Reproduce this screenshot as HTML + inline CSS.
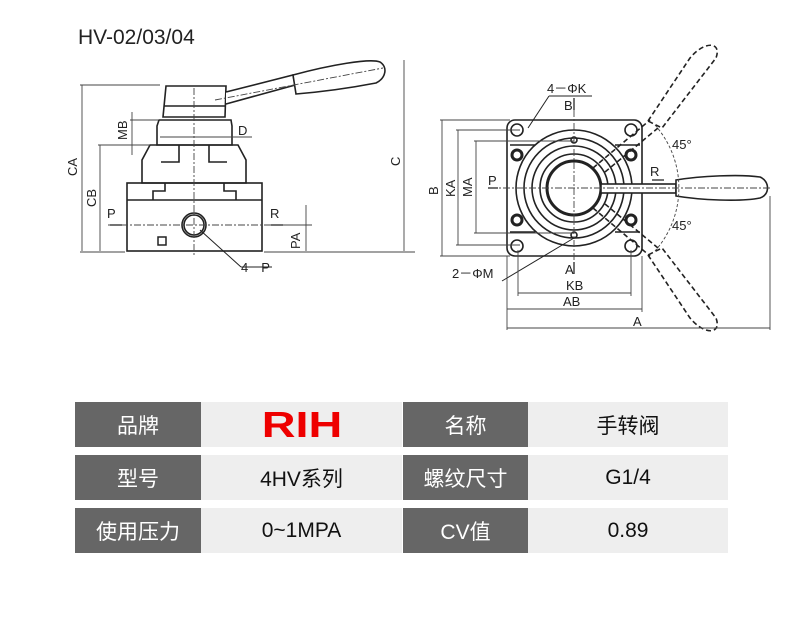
<!DOCTYPE html>
<html><head><meta charset="utf-8"><style>
body{margin:0;background:#fff;width:800px;height:623px;overflow:hidden;font-family:"Liberation Sans","Noto Sans CJK SC",sans-serif}
.t{position:absolute;left:0;top:0}
.c{position:absolute;display:flex;align-items:center;justify-content:center;font-size:21px}
.d{background:#666;color:#fff}
.l{background:#eee;color:#111}
</style></head><body>
<svg class="t" width="800" height="623" viewBox="0 0 800 623" font-family="Liberation Sans, sans-serif">
<text x="78" y="44" font-size="21" fill="#222">HV-02/03/04</text>
<g stroke="#222" stroke-width="1.6" fill="none">
<path d="M166 86 L226 86 L225 117 L163 117 Z" fill="#fff"/>
<line x1="164" y1="106" x2="225" y2="106"/>
<path d="M226 92 L293 75 L295 85 L226 104" fill="#fff"/>
<path d="M293 75 C330 65 370 58 380 62 C388 67 386 78 376 83 C350 88 320 92 296 94 Z" fill="#fff"/>
<path d="M159 120 L231 120 L232 126 L232 145 L157 145 L157 126 Z"/>
<path d="M150 145 L238 145 L246 160 L246 183 L142 183 L142 160 Z"/>
<path d="M179 145 L179 162 L161 162 M209 145 L209 162 L227 162"/>
<rect x="127" y="183" width="135" height="68"/>
<path d="M153 200 L153 191 L165 191 L165 183 M236 200 L236 191 L224 191 L224 183 M127 200 L262 200"/>
<circle cx="194" cy="225" r="12"/><circle cx="194" cy="225" r="10"/>
<rect x="158" y="237" width="8" height="8" stroke-width="1.5"/>
<line x1="200" y1="230" x2="241" y2="267" stroke-width="1"/><line x1="241" y1="267" x2="272" y2="267" stroke-width="1"/>
</g>
<g stroke="#444" stroke-width="0.9" fill="none">
<line x1="194" y1="88" x2="194" y2="256" stroke-dasharray="7 2 2 2"/>
<line x1="108" y1="225" x2="290" y2="225" stroke-dasharray="7 2 2 2"/>
<line x1="215" y1="100" x2="383" y2="68" stroke-dasharray="7 2 2 2"/>
<line x1="80" y1="85" x2="160" y2="85"/><line x1="82" y1="85" x2="82" y2="251"/>
<line x1="98" y1="145" x2="150" y2="145"/><line x1="100" y1="145" x2="100" y2="251"/>
<line x1="80" y1="252" x2="125" y2="252"/><line x1="264" y1="252" x2="415" y2="252"/>
<line x1="404" y1="60" x2="404" y2="251"/>
<line x1="132" y1="112" x2="132" y2="155"/><line x1="130" y1="120" x2="158" y2="120"/>
<line x1="160" y1="137" x2="252" y2="137"/>
<line x1="306" y1="205" x2="306" y2="251"/><line x1="264" y1="225" x2="312" y2="225"/>
<line x1="110" y1="225" x2="122" y2="225" stroke-width="1.5"/><line x1="271" y1="225" x2="283" y2="225" stroke-width="1.5"/>
</g>
<g font-size="13" fill="#222">
<text x="238" y="135">D</text><text x="107" y="218">P</text><text x="270" y="218">R</text><text x="241" y="272">4－P</text>
<text transform="translate(77,176) rotate(-90)">CA</text>
<text transform="translate(96,207) rotate(-90)">CB</text>
<text transform="translate(127,140) rotate(-90)">MB</text>
<text transform="translate(300,249) rotate(-90)">PA</text>
<text transform="translate(400,166) rotate(-90)">C</text>
</g>
<g stroke="#222" stroke-width="1.6" fill="none">
<rect x="507" y="120" width="135" height="136" rx="8"/>
<path d="M510 145 L535 145 M615 145 L640 145 M510 232 L535 232 M615 232 L640 232"/>
<circle cx="574" cy="188" r="58"/><circle cx="574" cy="188" r="50"/><circle cx="574" cy="188" r="42"/><circle cx="574" cy="188" r="34"/>
<circle cx="574" cy="188" r="27" stroke-width="3"/>
<circle cx="517" cy="130" r="6"/><circle cx="631" cy="130" r="6"/><circle cx="517" cy="246" r="6"/><circle cx="631" cy="246" r="6"/>
<g stroke-width="3"><circle cx="517" cy="155" r="5"/><circle cx="631" cy="155" r="5"/><circle cx="517" cy="220" r="5"/><circle cx="631" cy="220" r="5"/></g>
<circle cx="574" cy="140" r="3"/><circle cx="574" cy="235" r="3"/>
<rect x="601" y="184" width="75" height="9" fill="#fff"/>
<path d="M676 180 C700 176 740 174 760 177 C770 181 770 195 760 198 C740 202 700 200 676 196 Z" fill="#fff"/>
<g stroke-dasharray="5 3">
<path d="M648 121 L690 58 C705 40 722 42 716 58 L662 128 Z"/>
<path d="M648 255 L690 318 C705 336 722 334 716 318 L662 248 Z"/>
<path d="M593 168 L650 120 M605 172 L658 128 M593 208 L650 256 M605 204 L658 248"/>
</g>
<line x1="528" y1="128" x2="549" y2="96" stroke-width="1"/><line x1="549" y1="96" x2="592" y2="96" stroke-width="1"/>
<line x1="574" y1="238" x2="502" y2="281" stroke-width="1"/>
</g>
<g stroke="#444" stroke-width="0.9" fill="none">
<line x1="574" y1="110" x2="574" y2="270" stroke-dasharray="7 2 2 2"/>
<line x1="490" y1="188" x2="770" y2="188" stroke-dasharray="7 2 2 2"/>
<path d="M655 125 A95 95 0 0 1 655 251" stroke-dasharray="3 2"/>
<line x1="440" y1="120" x2="510" y2="120"/><line x1="440" y1="256" x2="510" y2="256"/><line x1="442" y1="120" x2="442" y2="256"/>
<line x1="456" y1="130" x2="520" y2="130"/><line x1="456" y1="245" x2="520" y2="245"/><line x1="458" y1="130" x2="458" y2="245"/>
<line x1="474" y1="141" x2="574" y2="141"/><line x1="474" y1="233" x2="574" y2="233"/><line x1="476" y1="141" x2="476" y2="233"/>
<line x1="518" y1="250" x2="518" y2="296"/><line x1="631" y1="250" x2="631" y2="296"/><line x1="518" y1="293" x2="631" y2="293"/>
<line x1="507" y1="256" x2="507" y2="330"/><line x1="642" y1="256" x2="642" y2="312"/><line x1="507" y1="309" x2="642" y2="309"/>
<line x1="770" y1="196" x2="770" y2="330"/><line x1="507" y1="328" x2="770" y2="328"/>
<line x1="488" y1="188" x2="498" y2="188" stroke-width="1.5"/><line x1="652" y1="180" x2="664" y2="180" stroke-width="1.5"/>
<line x1="574" y1="98" x2="574" y2="110" stroke-width="1.5"/><line x1="574" y1="262" x2="574" y2="274" stroke-width="1.5"/>
</g>
<g font-size="13" fill="#222">
<text x="547" y="93">4－ΦK</text><text x="564" y="110">B</text><text x="565" y="274">A</text>
<text x="566" y="290">KB</text><text x="563" y="306">AB</text><text x="633" y="326">A</text>
<text x="452" y="278">2－ΦM</text><text x="488" y="185">P</text><text x="650" y="176">R</text>
<text x="672" y="149">45°</text><text x="672" y="230">45°</text>
<text transform="translate(438,195) rotate(-90)">B</text>
<text transform="translate(455,197) rotate(-90)">KA</text>
<text transform="translate(472,197) rotate(-90)">MA</text>
</g>
</svg>
<div class="c d" style="left:75px;top:402px;width:126px;height:45px">品牌</div>
<div class="c l" style="left:201px;top:402px;width:201px;height:45px;color:#e00;font-weight:bold;font-size:36px"><span style="display:inline-block;transform:scaleX(1.3)">RIH</span></div>
<div class="c d" style="left:403px;top:402px;width:125px;height:45px">名称</div>
<div class="c l" style="left:528px;top:402px;width:200px;height:45px">手转阀</div>
<div class="c d" style="left:75px;top:455px;width:126px;height:45px">型号</div>
<div class="c l" style="left:201px;top:455px;width:201px;height:45px">4HV系列</div>
<div class="c d" style="left:403px;top:455px;width:125px;height:45px">螺纹尺寸</div>
<div class="c l" style="left:528px;top:455px;width:200px;height:45px">G1/4</div>
<div class="c d" style="left:75px;top:508px;width:126px;height:45px">使用压力</div>
<div class="c l" style="left:201px;top:508px;width:201px;height:45px">0~1MPA</div>
<div class="c d" style="left:403px;top:508px;width:125px;height:45px">CV值</div>
<div class="c l" style="left:528px;top:508px;width:200px;height:45px">0.89</div>
</body></html>
